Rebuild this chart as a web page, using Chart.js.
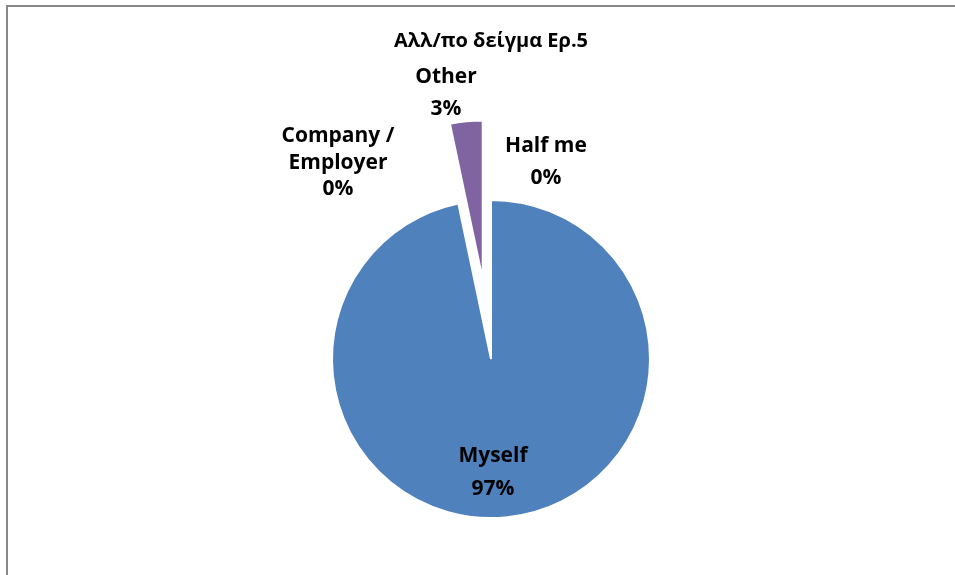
<!DOCTYPE html>
<html>
<head>
<meta charset="utf-8">
<script src="https://cdn.jsdelivr.net/npm/chart.js@4.4.1/dist/chart.umd.min.js"></script>
<style>
  body { margin: 0; background: #fff; }
  #wrap { position: relative; width: 955px; height: 575px; overflow: hidden; }
  #frame { position: absolute; left: 6px; top: 5px; right: -4px; bottom: -4px; border-top: 2px solid #888; border-left: 2px solid #888; }
  canvas { position: absolute; left: 0; top: 0; }
</style>
</head>
<body>
<div id="wrap">
  <div id="frame"></div>
  <canvas id="pieChart" width="955" height="575"></canvas>
</div>
<script>
const chartTitle = "Αλλ/πο δείγμα Ερ.5";
const categories = ["Myself", "Half me", ["Company /", "Employer"], "Other"];
const shares = [96.7, 0, 0, 3.3];
const sliceColors = ["#4F81BD", "#C0504D", "#9BBB59", "#8064A2"];
const explodeBy = [0, 0, 0, 80];

// first-line anchor (centre x, baseline y) and line step for each data label
const labelSpots = [
  { x: 493, y: 462, step: 33 },
  { x: 546, y: 152, step: 32 },
  { x: 338, y: 142, step: 26.5 },
  { x: 446, y: 83, step: 32 }
];

const labelFont = "bold 21px 'Open Sans'";

// pulls slices out from the centre along their mid angle
const explodePlugin = {
  id: "explode",
  afterDatasetUpdate(chart, args) {
    const meta = chart.getDatasetMeta(args.index);
    meta.data.forEach((arc, i) => {
      const d = explodeBy[i] || 0;
      if (!d) return;
      const mid = (arc.startAngle + arc.endAngle) / 2;
      arc.x += Math.cos(mid) * d;
      arc.y += Math.sin(mid) * d;
    });
  }
};

// category name + rounded percentage, one line each
const pieLabels = {
  id: "pieLabels",
  afterDatasetsDraw(chart) {
    const ctx = chart.ctx;
    const values = chart.data.datasets[0].data;
    const total = values.reduce((a, b) => a + b, 0);
    ctx.save();
    ctx.font = labelFont;
    ctx.fillStyle = "#000";
    ctx.textAlign = "center";
    ctx.textBaseline = "alphabetic";
    chart.data.labels.forEach((name, i) => {
      const spot = labelSpots[i];
      const lines = [].concat(name);
      lines.push(Math.round(values[i] / total * 100) + "%");
      lines.forEach((line, n) => {
        ctx.fillText(line, spot.x, spot.y + n * spot.step);
      });
    });
    ctx.restore();
  }
};

new Chart(document.getElementById("pieChart"), {
  type: "pie",
  data: {
    labels: categories,
    datasets: [{
      data: shares,
      backgroundColor: sliceColors,
      borderColor: "#fff",
      borderWidth: 2,
      radius: 159
    }]
  },
  options: {
    responsive: false,
    animation: false,
    events: [],
    layout: { padding: { left: 27, right: 0, top: 0, bottom: 0 } },
    plugins: {
      legend: { display: false },
      tooltip: { enabled: false },
      title: {
        display: true,
        text: chartTitle,
        fullSize: false,
        color: "#000",
        font: { family: "'Open Sans'", size: 20, weight: "bold", lineHeight: 1.2 },
        padding: { top: 29, bottom: 90 }
      }
    }
  },
  plugins: [explodePlugin, pieLabels]
});
</script>
</body>
</html>
